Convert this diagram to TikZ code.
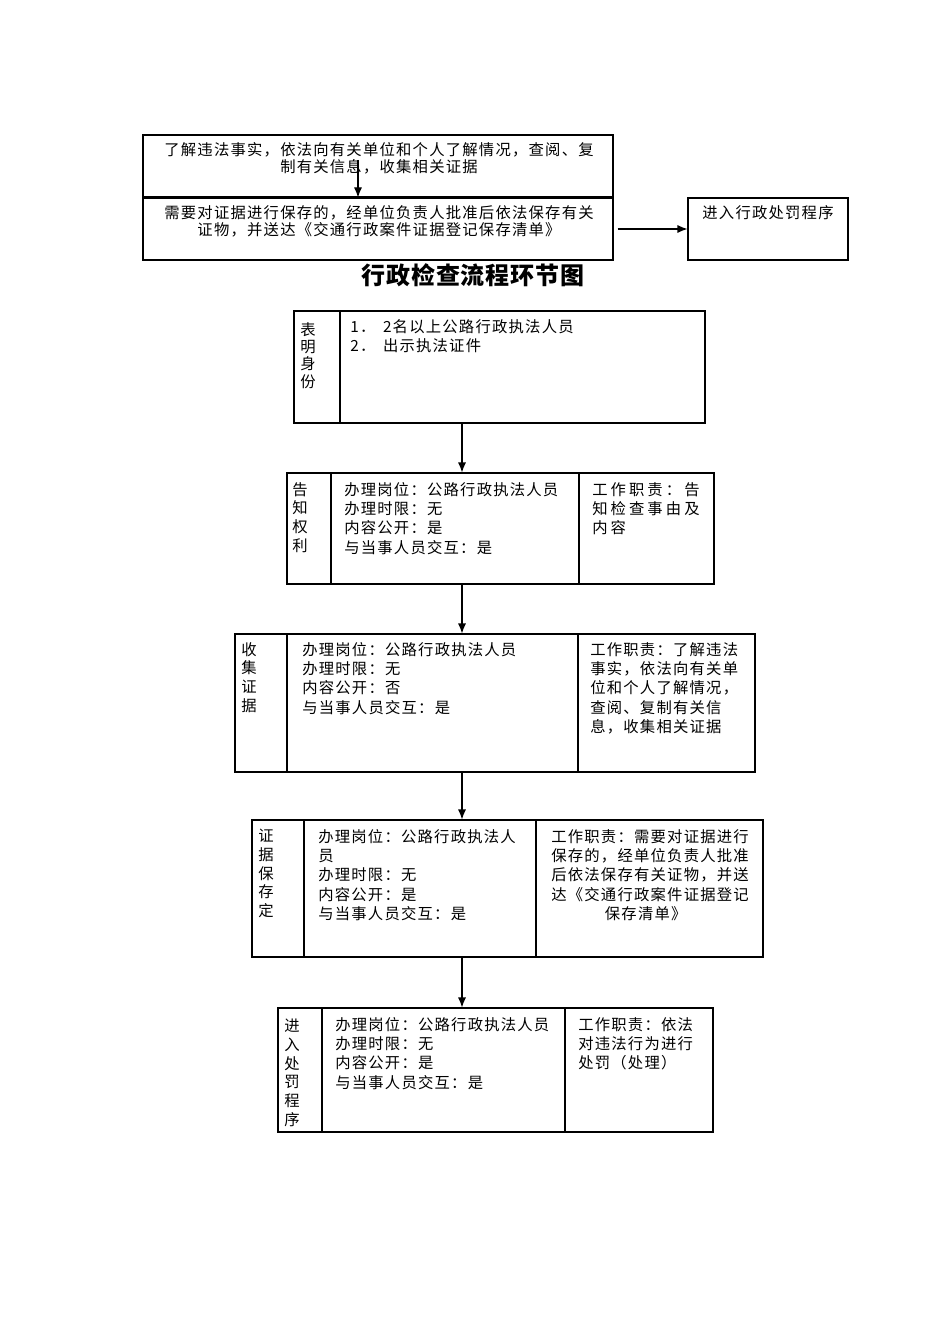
\documentclass[tikz,border=0pt]{standalone}
\usepackage{fontspec}
\newfontfamily\cjk[LetterSpace=8]{Noto Sans CJK SC}
\newfontfamily\cjkancho[LetterSpace=20]{Noto Sans CJK SC}
\newfontfamily\cjktitulo[LetterSpace=4]{Noto Sans CJK SC}
\usetikzlibrary{arrows.meta,fit}

\tikzset{
  celda/.style={draw, line width=0.8pt, inner sep=0pt},
  texto/.style={anchor=north west, inner sep=0pt, align=left, font=\cjk\fontsize{11.5}{14.5}\selectfont},
  centrado/.style={anchor=north, inner sep=0pt, align=center, font=\cjk\fontsize{11.5}{12.75}\selectfont},
  etiqueta/.style={anchor=north, inner sep=0pt, align=center, font=\cjk\fontsize{11.5}{14}\selectfont},
  flecha/.style={-{Latex[length=7.5pt,width=6pt]}, line width=0.8pt},
}

\begin{document}
\begin{tikzpicture}[x=0.75pt,y=-0.75pt]
	\useasboundingbox (0,0) rectangle (950,1344);

	% Cajas de arriba
	\node[celda, fit={(143,135) (613,197)}] (hechos) {};
	\node[celda, fit={(143,198) (613,260)}] (guardar) {};
	\node[celda, fit={(688,198) (848,260)}] (sancion) {};
	\node[centrado] (hechosT) at (379,142) {了解违法事实，依法向有关单位和个人了解情况，查阅、复\\制有关信息，收集相关证据};
	\node[centrado] (guardarT) at (379,205) {需要对证据进行保存的，经单位负责人批准后依法保存有关\\证物，并送达《交通行政案件证据登记保存清单》};
	\node[centrado] (sancionT) at (768,205) {进入行政处罚程序};
	\coordinate (inicio) at (358,160);
	\draw[flecha] (inicio) -- (guardar.north -| inicio);
	\draw[flecha, shorten <=3pt] (guardar.east) -- (sancion.west);

	% Titulo
	\node[font=\cjktitulo\bfseries\fontsize{18}{20}\selectfont, inner sep=0pt] (titulo) at (473,275) {行政检查流程环节图};

	% Celdas de cada paso
	\node[celda, fit={(294,311) (340,423)}] (aL) {};
	\node[celda, fit={(340,311) (705,423)}] (aM) {};
	\node[celda, fit={(287,473) (331,584)}] (bL) {};
	\node[celda, fit={(331,473) (579,584)}] (bM) {};
	\node[celda, fit={(579,473) (714,584)}] (bR) {};
	\node[celda, fit={(235,634) (287,772)}] (cL) {};
	\node[celda, fit={(287,634) (578,772)}] (cM) {};
	\node[celda, fit={(578,634) (755,772)}] (cR) {};
	\node[celda, fit={(252,820) (304,957)}] (dL) {};
	\node[celda, fit={(304,820) (536,957)}] (dM) {};
	\node[celda, fit={(536,820) (763,957)}] (dR) {};
	\node[celda, fit={(278,1008) (322,1132)}] (eL) {};
	\node[celda, fit={(322,1008) (565,1132)}] (eM) {};
	\node[celda, fit={(565,1008) (713,1132)}] (eR) {};

	% Textos de cada paso
	\node[etiqueta, font=\cjk\fontsize{11.5}{13}\selectfont] (aLt) at (308,322) {表\\明\\身\\份};
	\node[texto] (aMt) at (350,319) {1．\enspace 2名以上公路行政执法人员\\2．\enspace 出示执法证件};

	\node[etiqueta] (bLt) at (300,482) {告\\知\\权\\利};
	\node[texto] (bMt) at (344,482) {办理岗位：公路行政执法人员\\办理时限：无\\内容公开：是\\与当事人员交互：是};
	\node[texto, font=\cjkancho\fontsize{11.5}{14.5}\selectfont] (bRt) at (592,482) {工作职责：告\\知检查事由及\\内容};

	\node[etiqueta] (cLt) at (249,642) {收\\集\\证\\据};
	\node[texto] (cMt) at (302,642) {办理岗位：公路行政执法人员\\办理时限：无\\内容公开：否\\与当事人员交互：是};
	\node[texto] (cRt) at (590,642) {工作职责：了解违法\\事实，依法向有关单\\位和个人了解情况，\\查阅、复制有关信\\息，收集相关证据};

	\node[etiqueta] (dLt) at (266,829) {证\\据\\保\\存\\定};
	\node[texto] (dMt) at (318,829) {办理岗位：公路行政执法人\\员\\办理时限：无\\内容公开：是\\与当事人员交互：是};
	\node[texto] (dRt) at (551,829) {工作职责：需要对证据进行\\保存的，经单位负责人批准\\后依法保存有关证物，并送\\达《交通行政案件证据登记\\\hspace*{3.5em}保存清单》};

	\node[etiqueta] (eLt) at (292,1019) {进\\入\\处\\罚\\程\\序};
	\node[texto] (eMt) at (335,1017) {办理岗位：公路行政执法人员\\办理时限：无\\内容公开：是\\与当事人员交互：是};
	\node[texto] (eRt) at (578,1017) {工作职责：依法\\对违法行为进行\\处罚（处理）};

	% Flechas entre pasos
	\coordinate (eje) at (462,0);
	\foreach \a/\b in {aM/bM, bM/cM, cM/dM, dM/eM} {
	    \draw[flecha] (\a.south -| eje) -- (\b.north -| eje);
	}
\end{tikzpicture}
\end{document}
